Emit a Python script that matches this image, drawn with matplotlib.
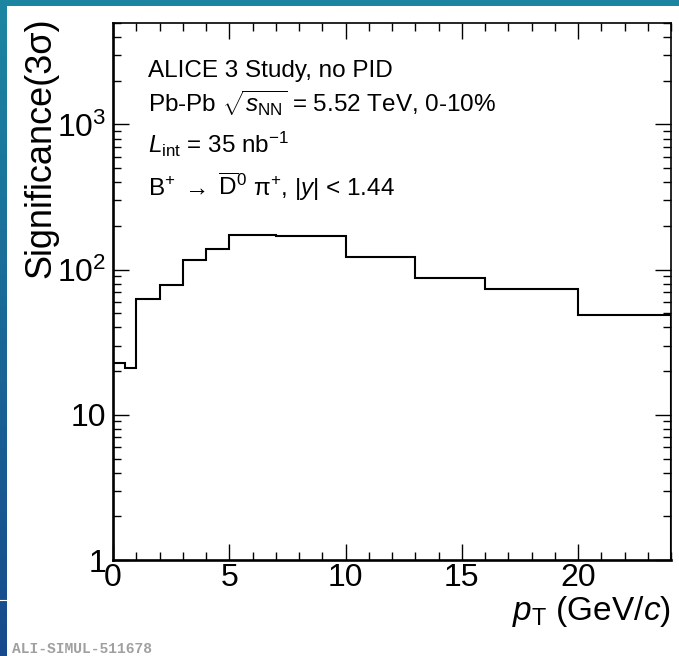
import numpy as np
import matplotlib.pyplot as plt
from matplotlib.patches import Rectangle
from matplotlib.ticker import FixedLocator, FixedFormatter, LogLocator, NullFormatter, MultipleLocator

plt.rcParams['font.family'] = ['Liberation Sans', 'DejaVu Sans']
plt.rcParams['mathtext.fontset'] = 'custom'
plt.rcParams['mathtext.rm'] = 'Liberation Sans'
plt.rcParams['mathtext.it'] = 'Liberation Sans:italic'
plt.rcParams['mathtext.bf'] = 'Liberation Sans:bold'

# pT bin edges (GeV/c) and expected significance per bin
pt_edges = [0, 0.5, 1, 2, 3, 4, 5, 7, 10, 13, 16, 20, 24]
significance = [22.8, 21.0, 62.6, 78.5, 116, 138, 174, 170, 122, 88, 74, 49]

ytick_vals = [1, 10, 100, 1000]
ytick_labels = ['1', '10', '$10^{2}$', '$10^{3}$']

W, H = 679, 656
fig = plt.figure(figsize=(W / 100, H / 100), dpi=100)

# blue slide frame behind the plot
bg = fig.add_axes([0, 0, 1, 1], zorder=-10)
top_col = np.array([0x1c, 0x86, 0xa2]) / 255
bot_col = np.array([0x17, 0x4a, 0x8c]) / 255
t = np.linspace(0, 1, 256)[:, None, None]
grad = top_col * (1 - t) + bot_col * t
bg.imshow(grad, aspect='auto', extent=[0, W, 0, H], origin='upper')
bg.add_patch(Rectangle((7, 0), W - 7, H - 6, color='white', lw=0))
bg.plot([0, 7], [56, 56], color='white', lw=0.8)
bg.set_xlim(0, W)
bg.set_ylim(0, H)
bg.axis('off')

ax = fig.add_axes([113 / W, 96 / H, 558 / W, 537 / H])
ax.stairs(significance, pt_edges, color='black', lw=1.5)

ax.set_yscale('log')
ax.set_xlim(0, 24)
ax.set_ylim(1, 5000)

ax.xaxis.set_major_locator(MultipleLocator(5))
ax.xaxis.set_minor_locator(MultipleLocator(1))
ax.yaxis.set_major_locator(FixedLocator(ytick_vals))
ax.yaxis.set_major_formatter(FixedFormatter(ytick_labels))
ax.yaxis.set_minor_locator(LogLocator(base=10, subs=range(2, 10)))
ax.yaxis.set_minor_formatter(NullFormatter())

ax.tick_params(which='both', direction='in', top=True, right=True, labelsize=23)
ax.tick_params(which='major', length=11.5, width=1.0)
ax.tick_params(which='minor', length=5.8, width=1.0)
ax.tick_params(axis='x', pad=2)
ax.tick_params(axis='y', pad=5)

for side in ['left', 'bottom']:
    ax.spines[side].set_linewidth(1.9)
for side in ['top', 'right']:
    ax.spines[side].set_linewidth(1.2)

ax.set_ylabel('Significance(3σ)', fontsize=26, loc='top')
ax.yaxis.set_label_coords(-0.097, 1.011)
ax.set_xlabel(r'$p_{\rm T}$ (GeV/$c$)', fontsize=24, loc='right')
ax.xaxis.set_label_coords(1.0, -0.064)

txt = dict(transform=ax.transAxes, fontsize=17.5, va='baseline', ha='left')
ax.text(0.063, 0.900, 'ALICE 3 Study, no PID', **txt)
ax.text(0.063, 0.835, r'Pb-Pb $\sqrt{s_{\rm NN}}$ = 5.52 TeV, 0-10%', **txt)
ax.text(0.063, 0.757, r'$L_{\rm int}$ = 35 nb$^{-1}$', **txt)
ax.text(0.063, 0.677, r'B$^{+}\;\rightarrow\;\overline{\rm D}^{0}$ π$^{+}$, |$y$| < 1.44', **txt)

fig.text(12 / W, 3 / H, 'ALI-SIMUL-511678', fontsize=10.5, color='#a0a0a0',
         family='Liberation Mono', weight='bold', va='baseline')

fig.savefig('out.png', dpi=100)
